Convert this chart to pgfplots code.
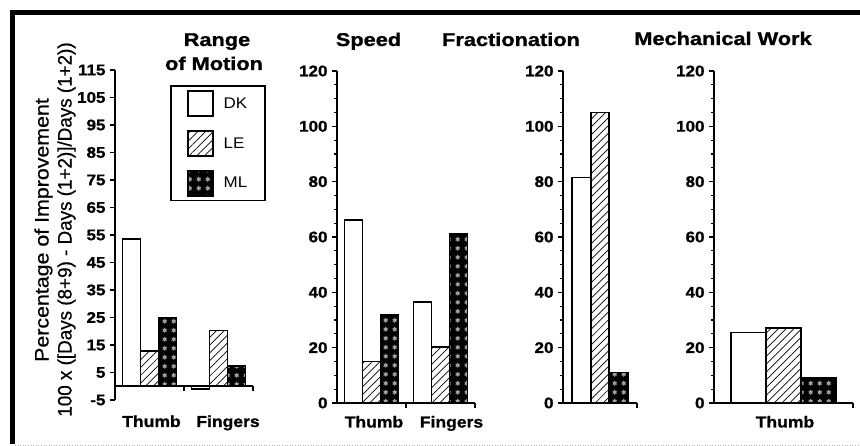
\documentclass[border=0pt]{standalone}
\usepackage{fontspec}
\setmainfont{Liberation Sans}[FakeStretch=1.1]
\newfontfamily\titlefont{Liberation Sans}[FakeStretch=1.18, FakeBold=1.2]
\newfontfamily\heavy{Liberation Sans}[FakeStretch=1.1, FakeBold=1]
\newfontfamily\labelfontA{Liberation Sans}[FakeStretch=1.1, FakeBold=0.6]
\newfontfamily\labelfontB{Liberation Sans}[FakeStretch=0.97, FakeBold=0.6]
\usepackage{pgfplots}
\pgfplotsset{compat=1.18}
\usetikzlibrary{patterns,patterns.meta}

\pgfplotsset{
  panel/.style={
    scale only axis, enlargelimits=false, clip=false,
    axis y line*=left,
    axis line style={line width=1.8bp},
    tick align=outside, major tick length=5bp, minor tick length=3bp,
    tick style={line width=1.1bp,black},
    ybar=0pt,
    yticklabel style={font=\heavy\bfseries\fontsize{15.5}{15.5}\selectfont, xshift=-1bp},
    xticklabels={},
  },
  sq legend/.style={legend image code/.code={\draw[##1] (0bp,-12.5bp) rectangle (25bp,12.5bp);}},
  dk/.style={draw=black, line width=1.8bp, fill=white, sq legend},
  le/.style={draw=black, line width=1.8bp, pattern={Lines[angle=45,distance=5.5bp,line width=0.7bp]}, sq legend},
  ml/.style={draw=black, line width=1.8bp, fill=black,
     postaction={pattern=sixpointed stars, pattern color=gray!75}, sq legend},
}

\begin{document}
\begin{tikzpicture}[x=1bp,y=1bp]
\useasboundingbox (0,0) rectangle (860,446);
% frame
\draw[line width=5bp] (10,433.5) -- (860,433.5);
\draw[line width=5bp] (12.5,436) -- (12.5,2);
\draw[gray!60, dotted, line width=0.6bp] (15,1) -- (860,1);

% Panel 1: Range of Motion
\begin{axis}[panel, at={(115bp,46bp)}, anchor=south west, width=138bp, height=330bp,
  xmin=0, xmax=2, ymin=-5, ymax=115, axis x line*=middle,
  xtick={1,2}, bar width=0.26,
  ytick={-5,5,...,115},
  yticklabels={-5,5,15,25,35,45,55,65,75,85,95,105,115},
  legend style={at={(0.399,0.953)}, anchor=north west, draw=black, line width=1.5bp,
    font=\fontsize{15.5}{15.5}\selectfont, row sep=13bp, inner xsep=16bp, inner ysep=4bp,
    /tikz/every odd column/.style={column sep=8bp}},
  legend cell align=left]
\addplot[dk] coordinates {(0.5,53.5) (1.5,-1)};
\addplot[le] coordinates {(0.5,12.8) (1.5,20.3)};
\addplot[ml] coordinates {(0.5,24.8) (1.5,7.5)};
\legend{DK\hspace{12bp},LE\hspace{12bp},ML\hspace{12bp}}
\end{axis}

% Panel 2: Speed
\begin{axis}[panel, at={(337bp,43bp)}, anchor=south west, width=138bp, height=332bp,
  xmin=0, xmax=2, ymin=0, ymax=120, axis x line*=bottom,
  xtick={1,2}, bar width=0.26,
  ytick={0,20,...,120}, minor y tick num=3,
  yticklabels={0,20,40,60,80,100,120}]
\addplot[dk] coordinates {(0.5,66) (1.5,36.5)};
\addplot[le] coordinates {(0.5,15) (1.5,20.2)};
\addplot[ml] coordinates {(0.5,32) (1.5,61)};
\end{axis}

% Panel 3: Fractionation
\begin{axis}[panel, at={(563bp,43bp)}, anchor=south west, width=74bp, height=332bp,
  xmin=0, xmax=1, ymin=0, ymax=120, axis x line*=bottom,
  xtick={1}, bar width=0.25,
  ytick={0,20,...,120}, minor y tick num=3,
  yticklabels={0,20,40,60,80,100,120}]
\addplot[dk] coordinates {(0.5,81.5)};
\addplot[le] coordinates {(0.5,105)};
\addplot[ml] coordinates {(0.5,11)};
\end{axis}

% Panel 4: Mechanical Work
\begin{axis}[panel, at={(714bp,43bp)}, anchor=south west, width=139bp, height=332bp,
  xmin=0, xmax=1, ymin=0, ymax=120, axis x line*=bottom,
  xtick={1}, bar width=0.25,
  ytick={0,20,...,120}, minor y tick num=3,
  yticklabels={0,20,40,60,80,100,120}]
\addplot[dk] coordinates {(0.5,25.5)};
\addplot[le] coordinates {(0.5,27)};
\addplot[ml] coordinates {(0.5,9)};
\end{axis}

% titles
\begin{scope}[every node/.style={font=\titlefont\bfseries\fontsize{18.5}{18.5}\selectfont, anchor=base, inner sep=0pt}]
\node at (217,400) {Range};
\node at (214,376) {of Motion};
\node at (368.5,400) {Speed};
\node at (511,400) {Fractionation};
\node at (723,401) {Mechanical Work};
\end{scope}

% category labels
\begin{scope}[every node/.style={font=\heavy\bfseries\fontsize{16}{16}\selectfont, anchor=base, inner sep=0pt}]
\node at (151.5,19) {Thumb};
\node at (228,19) {Fingers};
\node at (374,18.5) {Thumb};
\node at (451.5,18.5) {Fingers};
\node at (785,18.5) {Thumb};
\end{scope}

% y label (two rotated lines)
\node[rotate=90, anchor=base, font=\labelfontA\fontsize{19.5}{19.5}\selectfont, inner sep=0pt] at (48.5,216)
  {Percentage of Improvement};
\node[rotate=90, anchor=base, font=\labelfontB\fontsize{19.5}{19.5}\selectfont, inner sep=0pt] at (71.5,216.5)
  {100 x ([Days (8+9) - Days (1+2)]/Days (1+2))};
\end{tikzpicture}
\end{document}
